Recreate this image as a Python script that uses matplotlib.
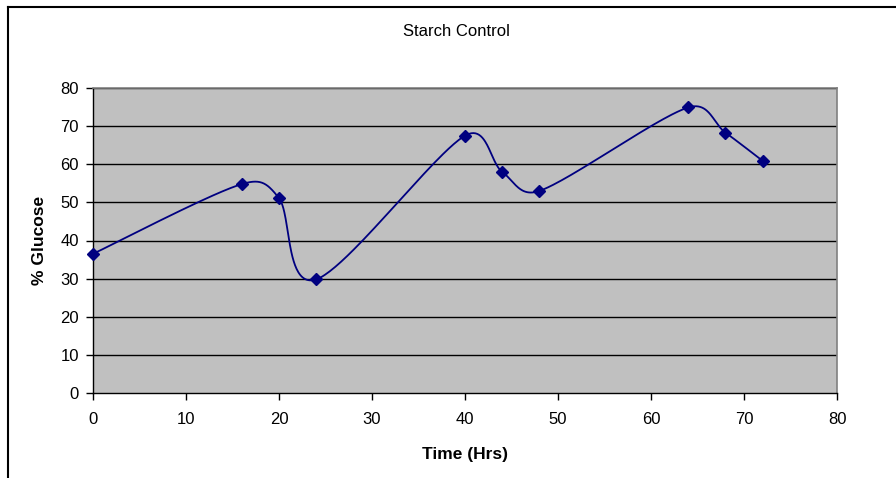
import numpy as np
import matplotlib
matplotlib.use("Agg")
import matplotlib.pyplot as plt
from matplotlib.lines import Line2D

plt.rcParams['font.family'] = ['Liberation Sans', 'DejaVu Sans']

# Data
time_hrs = [0, 16, 20, 24, 40, 44, 48, 64, 68, 72]
glucose_pct = [36.5, 54.8, 51.1, 29.8, 67.5, 58.0, 53.0, 74.9, 68.3, 60.9]
title = "Starch Control"
xlabel = "Time (Hrs)"
ylabel = "% Glucose"
xticks = [0, 10, 20, 30, 40, 50, 60, 70, 80]
yticks = [0, 10, 20, 30, 40, 50, 60, 70, 80]


def smooth_curve(xs, ys, sx=1.0, sy=1.0, n=50):
    """Excel-like smoothed line: cubic Bezier with tension 1/6,
    control distance capped at half the segment length (in screen space)."""
    P = np.column_stack([np.asarray(xs, float) * sx, np.asarray(ys, float) * sy])
    out = []
    m = len(P)
    for i in range(m - 1):
        p0 = P[i - 1] if i > 0 else P[i]
        p1 = P[i]
        p2 = P[i + 1]
        p3 = P[i + 2] if i + 2 < m else P[i + 1]
        d12 = np.linalg.norm(p2 - p1)
        d02 = np.linalg.norm(p2 - p0)
        d13 = np.linalg.norm(p3 - p1)
        f1 = 1 / 6 if d02 == 0 else min(1 / 6, d12 / (2 * d02))
        f2 = 1 / 6 if d13 == 0 else min(1 / 6, d12 / (2 * d13))
        c1 = p1 + f1 * (p2 - p0)
        c2 = p2 - f2 * (p3 - p1)
        t = np.linspace(0, 1, n)[:, None]
        seg = ((1 - t) ** 3) * p1 + 3 * ((1 - t) ** 2) * t * c1 + 3 * (1 - t) * t ** 2 * c2 + t ** 3 * p2
        out.append(seg if i == 0 else seg[1:])
    c = np.vstack(out)
    return c[:, 0] / sx, c[:, 1] / sy


fig = plt.figure(figsize=(8.96, 4.78), dpi=100)
ax_left, ax_right, ax_top, ax_bottom = 93, 837, 88, 393
ax = fig.add_axes([ax_left / 896, 1 - ax_bottom / 478, (ax_right - ax_left) / 896,
                   (ax_bottom - ax_top) / 478])
ax.set_facecolor('#C0C0C0')

for yv in yticks[1:]:
    ax.axhline(yv, color='#000000', lw=1.0, zorder=1)

ax.set_xlim(0, 80)
ax.set_ylim(0, 80)
px_per_x = (ax_right - ax_left) / 80.0
px_per_y = (ax_bottom - ax_top) / 80.0
cx, cy = smooth_curve(time_hrs, glucose_pct, px_per_x, px_per_y)
ax.plot(cx, cy, color='#000080', lw=1.3, zorder=3)
ax.plot(time_hrs, glucose_pct, linestyle='none', marker='D', markersize=6.3,
        color='#000080', zorder=4, clip_on=False)

ax.set_xticks(xticks)
ax.set_yticks(yticks)
ax.tick_params(axis='both', direction='out', length=5, width=1, color='#000000',
               labelsize=12)
ax.tick_params(axis='x', pad=9)
ax.tick_params(axis='y', pad=5)

for side in ['top', 'right']:
    ax.spines[side].set_color('#808080')
    ax.spines[side].set_linewidth(1.2)
for side in ['left', 'bottom']:
    ax.spines[side].set_color('#000000')
    ax.spines[side].set_linewidth(1.0)

fig.text(456 / 896, 1 - 32 / 478, title, fontsize=12, ha='center', va='center')
ax.set_xlabel(xlabel, fontsize=12.5, fontweight='bold', labelpad=14)
ax.set_ylabel(ylabel, fontsize=12.5, fontweight='bold', labelpad=10)

# outer chart frame (top and left edges visible)
fig.add_artist(Line2D([8 / 896, 1.0], [1 - 7 / 478, 1 - 7 / 478], color='#000000', lw=1.5,
                      transform=fig.transFigure))
fig.add_artist(Line2D([8 / 896, 8 / 896], [0, 1 - 7 / 478], color='#000000', lw=1.5,
                      transform=fig.transFigure))

fig.savefig('out.png', dpi=100)
